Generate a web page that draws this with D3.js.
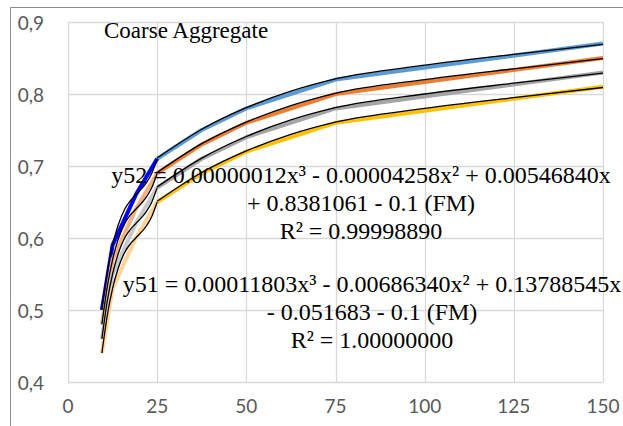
<!DOCTYPE html>
<html lang="en">
<head>
  <meta charset="UTF-8">
  <title>Coarse Aggregate</title>
  <style>
    body { margin: 0; background: #fff; }
  </style>
</head>
<body>
  <svg width="623" height="426"></svg>
  <script src="https://d3js.org/d3.v7.min.js"></script>
  <script>
// Data: max aggregate size vs bulk volume, FM 2.4 / 2.6 / 2.8 / 3.0
const sizesLow = [9.5, 12.5, 19, 25];
const sizesHigh = [25, 37.5, 50, 75, 150];
const fm24 = [0.50, 0.59, 0.66, 0.71, 0.75, 0.78, 0.82, 0.87];
const fm26 = [0.48, 0.57, 0.64, 0.69, 0.73, 0.76, 0.80, 0.85];
const fm28 = [0.46, 0.55, 0.62, 0.67, 0.71, 0.74, 0.78, 0.83];
const fm30 = [0.44, 0.53, 0.60, 0.65, 0.69, 0.72, 0.76, 0.81];

// trendlines (black)
const fitLowX = [9.5, 11, 12.5, 14, 16, 17.5, 19, 22, 23.5, 25];
const fit24Low = [0.500, 0.552, 0.590, 0.617, 0.641, 0.652, 0.660, 0.677, 0.690, 0.710];
const fit26Low = [0.480, 0.532, 0.570, 0.597, 0.621, 0.632, 0.640, 0.657, 0.670, 0.690];
const fit28Low = [0.460, 0.512, 0.550, 0.577, 0.601, 0.612, 0.620, 0.637, 0.650, 0.670];
const fit30Low = [0.440, 0.492, 0.530, 0.557, 0.581, 0.592, 0.600, 0.617, 0.630, 0.650];
const fitHighX = [25, 37.5, 50, 62.5, 75, 100, 125, 150];
const fit24High = [0.711, 0.751, 0.781, 0.804, 0.821, 0.840, 0.855, 0.869];
const fit26High = [0.691, 0.731, 0.761, 0.784, 0.801, 0.820, 0.835, 0.849];
const fit28High = [0.671, 0.711, 0.741, 0.764, 0.781, 0.800, 0.815, 0.829];
const fit30High = [0.651, 0.691, 0.721, 0.744, 0.761, 0.780, 0.795, 0.809];

const xTicks = [0, 25, 50, 75, 100, 125, 150];
const yTicks = [0.4, 0.5, 0.6, 0.7, 0.8, 0.9];

const series = [
  { vals: fm24, fitLow: fit24Low, fitHigh: fit24High, low: "#0000ff", high: "#5b9bd5" },
  { vals: fm26, fitLow: fit26Low, fitHigh: fit26High, low: "#f4b183", high: "#ed7d31" },
  { vals: fm28, fitLow: fit28Low, fitHigh: fit28High, low: "#c9c9c9", high: "#a5a5a5" },
  { vals: fm30, fitLow: fit30Low, fitHigh: fit30High, low: "#ffd495", high: "#ffc000" }
];

const serif = "Liberation Serif";
const sans = "Lato";

const svg = d3.select("svg");
const x = d3.scaleLinear().domain([0, 150]).range([68, 603]);
const y = d3.scaleLinear().domain([0.4, 0.9]).range([382, 22]);

// outer chart border (cropped at right and bottom)
svg.append("path")
  .attr("d", "M10.5,430 V7.5 H630")
  .attr("fill", "none")
  .attr("stroke", "#8c8c8c")
  .attr("stroke-width", 1);

// gridlines
svg.append("g").selectAll("line").data(yTicks).join("line")
  .attr("x1", x(0)).attr("x2", x(150))
  .attr("y1", d => Math.round(y(d)) + 0.5).attr("y2", d => Math.round(y(d)) + 0.5)
  .attr("stroke", "#d9d9d9").attr("stroke-width", 1.3);
svg.append("g").selectAll("line").data(xTicks).join("line")
  .attr("x1", d => Math.round(x(d)) + 0.5).attr("x2", d => Math.round(x(d)) + 0.5)
  .attr("y1", y(0.9)).attr("y2", y(0.4))
  .attr("stroke", "#d9d9d9").attr("stroke-width", 1.3);

// tick labels
svg.append("g").selectAll("text").data(yTicks).join("text")
  .attr("font-family", sans).attr("font-size", 19).attr("fill", "#595959")
  .attr("x", 44).attr("y", d => y(d))
  .attr("text-anchor", "end").attr("dominant-baseline", "central")
  .text(d => d3.format(".1f")(d).replace(".", ","));
svg.append("g").selectAll("text").data(xTicks).join("text")
  .attr("font-family", sans).attr("font-size", 19).attr("fill", "#595959")
  .attr("x", d => x(d)).attr("y", 405)
  .attr("text-anchor", "middle").attr("dominant-baseline", "central")
  .text(d => d);

const lineLin = d3.line().x(d => x(d[0])).y(d => y(d[1]));
const lineFit = d3.line().x(d => x(d[0])).y(d => y(d[1])).curve(d3.curveMonotoneX);

const plot = svg.append("g");
series.forEach(s => {
  const low = sizesLow.map((xv, i) => [xv, s.vals[i]]);
  const high = sizesHigh.map((xv, i) => [xv, s.vals[i + 3]]);
  plot.append("path").attr("d", lineLin(high))
    .attr("fill", "none").attr("stroke", s.high).attr("stroke-width", 4)
    .attr("stroke-linejoin", "round");
  plot.append("path").attr("d", lineLin(low))
    .attr("fill", "none").attr("stroke", s.low).attr("stroke-width", 4)
    .attr("stroke-linejoin", "round");
});
series.forEach(s => {
  plot.append("path").attr("d", lineFit(fitLowX.map((xv, i) => [xv, s.fitLow[i]])))
    .attr("fill", "none").attr("stroke", "#000").attr("stroke-width", 1.3);
  plot.append("path").attr("d", lineFit(fitHighX.map((xv, i) => [xv, s.fitHigh[i]])))
    .attr("fill", "none").attr("stroke", "#000").attr("stroke-width", 1.3);
});

// title
svg.append("text")
  .attr("font-family", serif).attr("font-size", 23)
  .attr("x", 104).attr("y", 30).attr("dominant-baseline", "central")
  .text("Coarse Aggregate");

// equations
const eq52 = [
  "y52 = 0.00000012x³ - 0.00004258x² + 0.00546840x",
  "+ 0.8381061 - 0.1 (FM)",
  "R² = 0.99998890"
];
const eq51 = [
  "y51 = 0.00011803x³ - 0.00686340x² + 0.13788545x",
  "- 0.051683 - 0.1 (FM)",
  "R² = 1.00000000"
];
svg.append("g").selectAll("text").data(eq52).join("text")
  .attr("font-family", serif).attr("font-size", 24).attr("text-anchor", "middle")
  .attr("x", 361).attr("y", (d, i) => 175 + i * 28)
  .attr("dominant-baseline", "central").text(d => d);
svg.append("g").selectAll("text").data(eq51).join("text")
  .attr("font-family", serif).attr("font-size", 24).attr("text-anchor", "middle")
  .attr("x", 372).attr("y", (d, i) => 284 + i * 28)
  .attr("dominant-baseline", "central").text(d => d);
  </script>
</body>
</html>
